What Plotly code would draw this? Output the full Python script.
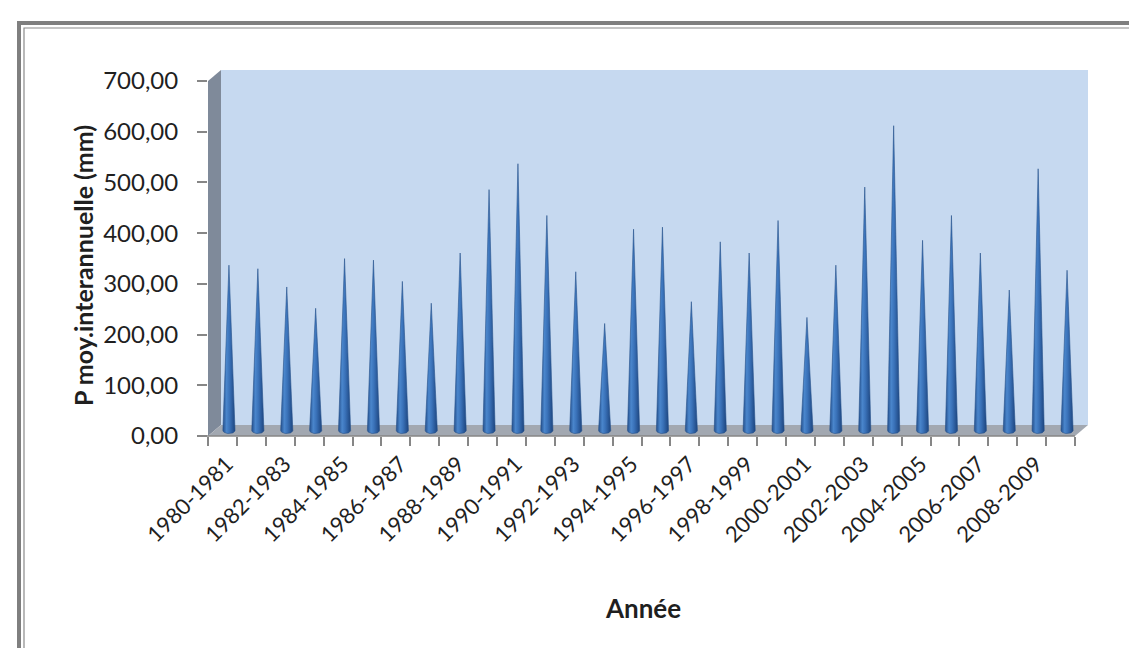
import plotly.graph_objects as go
import numpy as np

# ---------------- data ----------------
categories = ["1980-1981", "1981-1982", "1982-1983", "1983-1984", "1984-1985",
              "1985-1986", "1986-1987", "1987-1988", "1988-1989", "1989-1990",
              "1990-1991", "1991-1992", "1992-1993", "1993-1994", "1994-1995",
              "1995-1996", "1996-1997", "1997-1998", "1998-1999", "1999-2000",
              "2000-2001", "2001-2002", "2002-2003", "2003-2004", "2004-2005",
              "2005-2006", "2006-2007", "2007-2008", "2008-2009", "2009-2010"]
values = [326, 319, 283, 241, 339, 336, 294, 251, 350, 475,
          526, 424, 313, 211, 397, 401, 254, 372, 350, 414,
          223, 326, 480, 601, 375, 424, 350, 277, 516, 316]
y_tickvals = [0, 100, 200, 300, 400, 500, 600, 700]
y_ticktext = ["0,00", "100,00", "200,00", "300,00", "400,00", "500,00", "600,00", "700,00"]
x_title = "Année"
y_title = "P moy.interannuelle (mm)"

# ---------------- geometry (pixels) ----------------
W, H = 1137, 648
FX0, FX1 = 200, 1067      # front plane: x range -0.5 .. n-0.5
FY0, FY1 = 428, 73        # front plane: y 0 .. 700
DX, DY = 13, 11           # depth offset of back wall
YMAX = 700
YMIN_CONE = -20
n = len(categories)
scale = (FY0 - FY1) / YMAX


def px(x):
    return x / W


def py(y):
    return 1 - y / H


FONT = "Lato, 'Open Sans', sans-serif"
TXT = "#1f1f1f"

fig = go.Figure()

# cones (drawn on mid-depth axes)
w = 0.21
h = 6.0
t = np.linspace(0, np.pi, 25)
for i, v in enumerate(values):
    xs = [i + w, i, i - w] + list(i - w * np.cos(t))
    ys = [0, v, 0] + list(-h * np.sin(t))
    fig.add_trace(go.Scatter(
        x=xs, y=ys, xaxis="x2", yaxis="y2", mode="lines",
        fill="toself",
        fillgradient=dict(type="horizontal",
                          colorscale=[[0, "#244f8c"], [0.3, "#4a86cc"],
                                      [0.55, "#3a72b9"], [1, "#1d457f"]]),
        line=dict(color="#27528c", width=0.6),
        hoverinfo="skip", showlegend=False))

# invisible trace on the front axes so they render
fig.add_trace(go.Scatter(x=[0], y=[0], mode="markers", marker=dict(opacity=0),
                         hoverinfo="skip", showlegend=False))

shapes = []
# back wall
shapes.append(dict(type="rect", xref="paper", yref="paper", layer="below",
                   x0=px(FX0 + DX), x1=px(FX1 + DX), y0=py(FY0 - DY), y1=py(FY1 - DY),
                   fillcolor="#c6d9f0", line=dict(width=0)))
# left wall
shapes.append(dict(type="path", xref="paper", yref="paper", layer="below",
                   path=f"M {px(FX0)} {py(FY1)} L {px(FX0 + DX)} {py(FY1 - DY)} "
                        f"L {px(FX0 + DX)} {py(FY0 - DY)} L {px(FX0)} {py(FY0)} Z",
                   fillcolor="#7f8a9a", line=dict(width=0)))
# floor
shapes.append(dict(type="path", xref="paper", yref="paper", layer="below",
                   path=f"M {px(FX0)} {py(FY0)} L {px(FX0 + DX)} {py(FY0 - DY)} "
                        f"L {px(FX1 + DX)} {py(FY0 - DY)} L {px(FX1)} {py(FY0)} Z",
                   fillcolor="#a2a8b1", line=dict(width=0)))
# front axis line
shapes.append(dict(type="line", xref="paper", yref="paper",
                   x0=px(FX0 - 8), x1=px(FX1), y0=py(FY0), y1=py(FY0),
                   line=dict(color="#868686", width=1.5)))
# outer frame
shapes.append(dict(type="rect", xref="paper", yref="paper",
                   x0=px(11), x1=px(1160), y0=py(700), y1=py(15),
                   line=dict(color="#7f7f7f", width=4)))
shapes.append(dict(type="rect", xref="paper", yref="paper",
                   x0=px(16), x1=px(1155), y0=py(700), y1=py(20),
                   line=dict(color="#8a8a8a", width=1.2)))

annotations = [
    dict(text=f"<b>{x_title}</b>", xref="paper", yref="paper",
         x=px(635), y=py(618), showarrow=False,
         font=dict(family=FONT, size=26, color=TXT)),
    dict(text=f"<b>{y_title}</b>", xref="paper", yref="paper",
         x=px(58), y=py(258), showarrow=False, textangle=-90,
         font=dict(family=FONT, size=25, color=TXT)),
]

fig.update_layout(
    template=None,
    width=W, height=H,
    margin=dict(l=0, r=0, t=0, b=0, pad=0, autoexpand=False),
    paper_bgcolor="white", plot_bgcolor="rgba(0,0,0,0)",
    showlegend=False,
    shapes=shapes, annotations=annotations,
    xaxis=dict(domain=[px(FX0), px(FX1)], range=[-0.5, n - 0.5], anchor="y",
               automargin=False,
               tickmode="array", tickvals=[i + 0.15 for i in range(0, n, 2)],
               ticktext=[categories[i] for i in range(0, n, 2)],
               tickangle=-45, ticks="", showgrid=False, zeroline=False,
               showline=False, ticklabelstandoff=10,
               tickfont=dict(family=FONT, size=22, color=TXT),
               minor=dict(tick0=-0.5, dtick=1, ticks="outside", ticklen=9,
                          tickcolor="#868686", tickwidth=1.5, showgrid=False)),
    yaxis=dict(domain=[py(FY0), py(FY1)], range=[0, YMAX], anchor="x",
               automargin=False,
               tickmode="array", tickvals=y_tickvals, ticktext=y_ticktext,
               ticks="outside", ticklen=10, tickcolor="#868686", tickwidth=1.5,
               showgrid=False, zeroline=False, showline=False,
               ticklabelstandoff=14,
               tickfont=dict(family=FONT, size=24, color=TXT)),
    xaxis2=dict(domain=[px(FX0 + DX / 2), px(FX1 + DX / 2)], range=[-0.5, n - 0.5],
                anchor="y2", visible=False, automargin=False),
    yaxis2=dict(domain=[py(FY0 - DY / 2 - YMIN_CONE * scale), py(FY1 - DY / 2)],
                range=[YMIN_CONE, YMAX], anchor="x2", visible=False, automargin=False),
)

fig.write_html("out.html")
